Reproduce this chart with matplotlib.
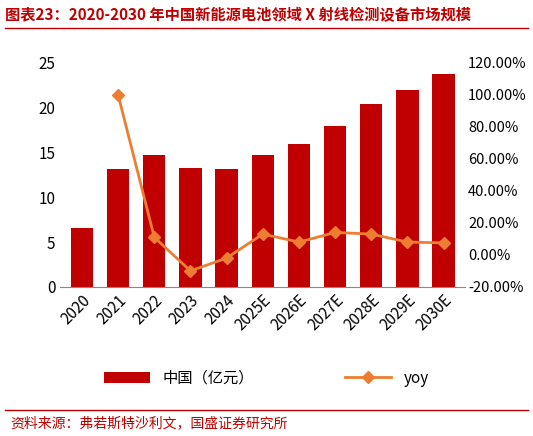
import matplotlib.pyplot as plt
import numpy as np

plt.rcParams['font.family'] = ['Noto Sans CJK SC', 'DejaVu Sans']

years = ['2020', '2021', '2022', '2023', '2024', '2025E', '2026E', '2027E', '2028E', '2029E', '2030E']
market = [6.6, 13.2, 14.7, 13.3, 13.1, 14.7, 15.9, 18.0, 20.4, 22.0, 23.7]
yoy = [None, 100.0, 11.0, -10.0, -2.0, 13.0, 8.0, 14.0, 13.0, 8.0, 7.5]

fig = plt.figure(figsize=(5.33, 4.36), dpi=100)
ax = fig.add_axes([0.113, 0.342, 0.76, 0.514])
x = np.arange(len(years))
ax.bar(x, market, width=0.62, color='#C00000', label='中国（亿元）')
ax.set_ylim(0, 25)
ax.set_yticks(range(0, 26, 5))
ax.set_xlim(-0.6, len(years) - 0.4)
ax.set_xticks(x)
ax.set_xticklabels(years, rotation=45, ha='right', rotation_mode='anchor', fontsize=11)
ax.tick_params(axis='y', labelsize=11, length=0)
ax.tick_params(axis='x', length=0)
for s in ['top', 'right', 'left']:
    ax.spines[s].set_visible(False)
ax.spines['bottom'].set_color('#888888')

ax2 = ax.twinx()
xi = [i for i, v in enumerate(yoy) if v is not None]
yv = [v for v in yoy if v is not None]
ax2.plot(xi, yv, color='#ED7D31', lw=2, marker='D', ms=6, label='yoy')
ax2.set_ylim(-20, 120)
ax2.set_yticks(range(-20, 121, 20))
ax2.set_yticklabels([f'{v:.2f}%' for v in range(-20, 121, 20)], fontsize=10.5)
ax2.tick_params(axis='y', length=0, pad=2)
for s in ['top', 'right', 'left', 'bottom']:
    ax2.spines[s].set_visible(False)

h1, l1 = ax.get_legend_handles_labels()
h2, l2 = ax2.get_legend_handles_labels()
fig.legend(h1 + h2, l1 + l2, loc='center', bbox_to_anchor=(0.5, 0.133), ncol=2,
           frameon=False, fontsize=11, columnspacing=6, handlelength=3)

fig.text(0.01, 0.965, '图表23：2020-2030 年中国新能源电池领域 X 射线检测设备市场规模',
         color='#C00000', fontsize=11, style='italic', fontweight='bold', va='center')
fig.add_artist(plt.Line2D([0.01, 0.99], [0.935, 0.935], color='#C00000', lw=1))
fig.add_artist(plt.Line2D([0.01, 0.99], [0.06, 0.06], color='#C00000', lw=1))
fig.text(0.02, 0.03, '资料来源：弗若斯特沙利文，国盛证券研究所', color='#C00000',
         fontsize=10, style='italic', va='center')

fig.savefig('out.png', dpi=100)
